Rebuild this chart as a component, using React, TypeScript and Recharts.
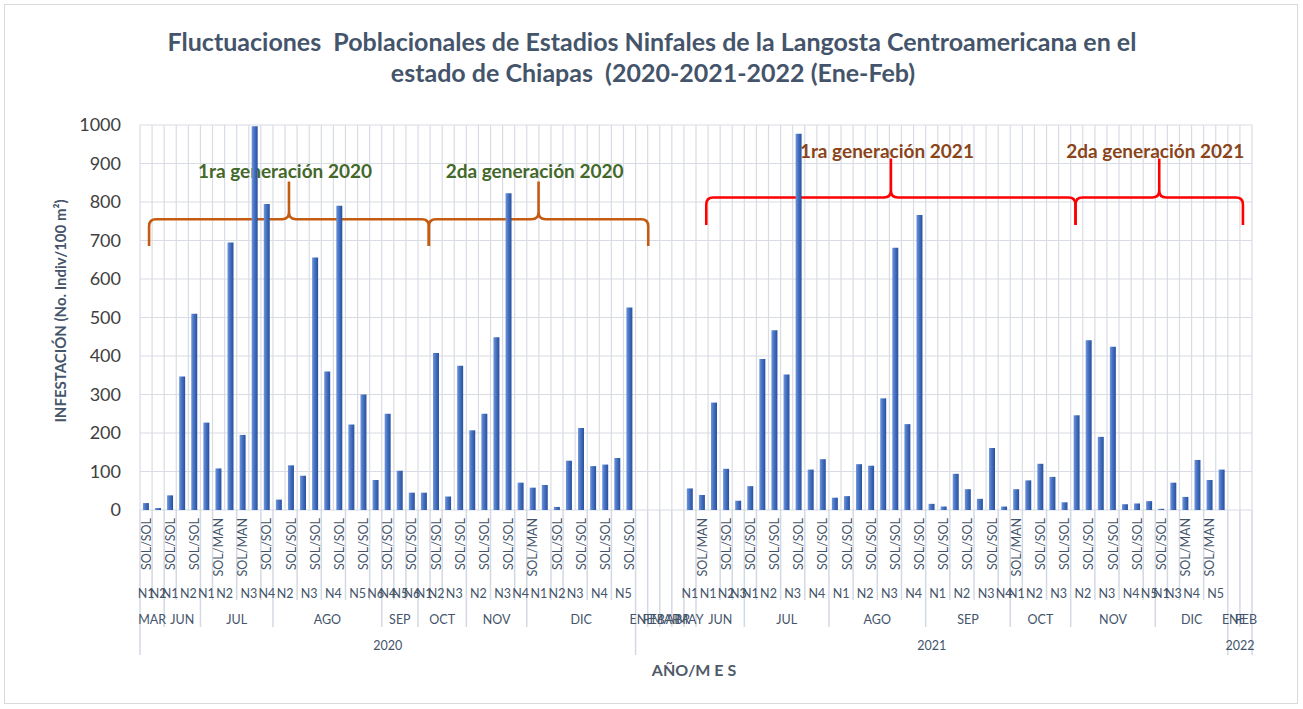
import React from "react";
import { BarChart, Bar, XAxis, YAxis, CartesianGrid, ReferenceArea } from "recharts";

// ---------- data ----------
const infestation2020: (number | null)[] = [
  18, 5, 38, 347, 510, 227, 108, 695, 195, 997, 795, 27, 116, 89, 656, 360, 790, 222, 300, 78,
  250, 102, 45, 45, 408, 35, 375, 207, 250, 449, 823, 71, 58, 65, 8, 128, 213, 114, 118, 135, 526,
];
const infestation2021: (number | null)[] = [
  null, null, null, null, 56, 39, 279, 107, 24, 62, 392, 467, 352, 977, 105, 132, 32, 36, 119, 115,
  290, 681, 223, 766, 16, 9, 94, 54, 29, 161, 9, 54, 77, 120, 86, 20, 246, 441, 190, 424, 15, 17, 23,
  3, 71, 34, 130, 78, 105,
];
const infestation2022: (number | null)[] = [null, null];

const yearGroups: [string, number][] = [["2020", 41], ["2021", 49], ["2022", 2]];
const monthGroups: [string, number][] = [
  ["MAR", 2], ["JUN", 3], ["JUL", 6], ["AGO", 9], ["SEP", 3], ["OCT", 4], ["NOV", 5], ["DIC", 9],
  ["ENE", 1], ["FEB", 1], ["MAR", 1], ["ABR", 1], ["MAY", 1], ["JUN", 4], ["JUL", 7], ["AGO", 8],
  ["SEP", 7], ["OCT", 5], ["NOV", 7], ["DIC", 6],
  ["ENE", 1], ["FEB", 1],
];
const stageGroups: [string, number][] = [
  ["N1", 1], ["N2", 1],
  ["N1", 1], ["N2", 2],
  ["N1", 1], ["N2", 2], ["N3", 2], ["N4", 1],
  ["N2", 2], ["N3", 2], ["N4", 2], ["N5", 2], ["N6", 1],
  ["N4", 1], ["N5", 1], ["N6", 1],
  ["N1", 1], ["N2", 1], ["N3", 2],
  ["N2", 2], ["N3", 2], ["N4", 1],
  ["N1", 2], ["N2", 1], ["N3", 2], ["N4", 2], ["N5", 2],
  ["", 4],
  ["N1", 1],
  ["N1", 2], ["N2", 1], ["N3", 1],
  ["N1", 1], ["N2", 2], ["N3", 2], ["N4", 2],
  ["N1", 2], ["N2", 2], ["N3", 2], ["N4", 2],
  ["N1", 2], ["N2", 2], ["N3", 2], ["N4", 1],
  ["N1", 1], ["N2", 2], ["N3", 2],
  ["N2", 2], ["N3", 2], ["N4", 2], ["N5", 1],
  ["N1", 1], ["N3", 1], ["N4", 2], ["N5", 2],
  ["", 2],
];
// label shown on every second category (0, 2, 4, ...)
const conditionLabels: string[] = [
  "SOL/SOL", "SOL/SOL", "SOL/SOL", "SOL/MAN", "SOL/MAN", "SOL/SOL", "SOL/SOL", "SOL/SOL", "SOL/SOL",
  "SOL/SOL", "SOL/SOL", "SOL/SOL", "SOL/SOL", "SOL/SOL", "SOL/SOL", "SOL/SOL", "SOL/MAN", "SOL/SOL",
  "SOL/SOL", "SOL/SOL", "SOL/SOL",
  "", "", "SOL/MAN", "SOL/SOL", "SOL/SOL", "SOL/SOL", "SOL/SOL", "SOL/SOL", "SOL/SOL", "SOL/SOL",
  "SOL/SOL", "SOL/SOL", "SOL/SOL", "SOL/SOL", "SOL/SOL", "SOL/MAN", "SOL/SOL", "SOL/SOL", "SOL/SOL",
  "SOL/SOL", "SOL/SOL", "SOL/SOL", "SOL/MAN", "SOL/MAN", "",
];
const yTicks = [0, 100, 200, 300, 400, 500, 600, 700, 800, 900, 1000];

const braces = [
  { label: "1ra generación 2020", from: 0.75, to: 23.9, low: 686, high: 853, stroke: "#C55A11", color: "#43682A", dy: -3.5 },
  { label: "2da generación 2020", from: 23.9, to: 42.05, low: 686, high: 853, stroke: "#C55A11", color: "#43682A", dy: -3.5 },
  { label: "1ra generación 2021", from: 46.85, to: 77.4, low: 740, high: 913, stroke: "#FF0000", color: "#8A4419", dy: 0 },
  { label: "2da generación 2021", from: 77.4, to: 91.25, low: 740, high: 913, stroke: "#FF0000", color: "#8A4419", dy: 0 },
];

// ---------- derived ----------
const values = [...infestation2020, ...infestation2021, ...infestation2022];
const TOTAL = values.length;
const data = values.map((v, i) => ({ key: i, pos: i + 0.5, infestacion: v }));

const toSpans = (groups: [string, number][]) => {
  let s = 0;
  return groups.map(([label, n]) => {
    const r = { label, start: s, end: s + n };
    s += n;
    return r;
  });
};
const yearSpans = toSpans(yearGroups);
const monthSpans = toSpans(monthGroups);
const stageSpans = toSpans(stageGroups);

const boundaryLevel = new Map<number, number>();
const mark = (spans: { start: number; end: number }[], lvl: number) =>
  spans.forEach((s) => {
    [s.start, s.end].forEach((b) => boundaryLevel.set(b, Math.max(boundaryLevel.get(b) || 0, lvl)));
  });
mark(stageSpans, 1);
mark(monthSpans, 2);
mark(yearSpans, 3);

const condMap = new Map<number, string>();
conditionLabels.forEach((l, k) => {
  if (l) condMap.set(2 * k + 0.5, l);
});
const centerMap = (spans: { label: string; start: number; end: number }[]) => {
  const m = new Map<number, string>();
  spans.forEach((s) => {
    if (s.label) m.set((s.start + s.end) / 2, s.label);
  });
  return m;
};
const stageMap = centerMap(stageSpans);
const monthMap = centerMap(monthSpans);
const yearMap = centerMap(yearSpans);

const condTicks = [...Array.from(boundaryLevel.keys()), ...Array.from(condMap.keys())].sort((a, b) => a - b);
const gridTicks = Array.from({ length: TOTAL + 1 }, (_, i) => i);

// ---------- styles ----------
const W = 1303;
const H = 709;
const LABEL = "#44546A";
const SEP = "#D3D9E3";
const FONT = "Lato, 'Noto Sans', sans-serif";
const sepLen = [0, 90, 117, 145];

const CondTick = (props: any) => {
  const { x, y, payload } = props;
  const v = payload.value as number;
  if (boundaryLevel.has(v)) {
    return <line x1={x} x2={x} y1={y} y2={y + sepLen[boundaryLevel.get(v) as number]} stroke={SEP} strokeWidth={1.5} />;
  }
  const label = condMap.get(v);
  if (!label) return <g />;
  return (
    <text
      transform={`translate(${x},${y + 8}) rotate(-90)`}
      textAnchor="end"
      dominantBaseline="central"
      fontSize={12.5}
      fontFamily={FONT}
      fill={LABEL}
    >
      {label}
    </text>
  );
};

const makeTick = (m: Map<number, string>, dy: number, size: number) => (props: any) => {
  const { x, y, payload } = props;
  const label = m.get(payload.value as number);
  if (!label) return <g />;
  return (
    <text x={x} y={y + dy} textAnchor="middle" fontSize={size} fontFamily={FONT} fill={LABEL}>
      {label}
    </text>
  );
};
const StageTick = makeTick(stageMap, 26, 12.5);
const MonthTick = makeTick(monthMap, 24, 12.5);
const YearTick = makeTick(yearMap, 23, 12.5);

const makeBrace = (b: (typeof braces)[number]) => (props: any) => {
  const { x, y, width, height } = props;
  const x0 = x;
  const x1 = x + width;
  const xm = x + width / 2;
  const yb = y + height;
  const yt = y;
  const yh = yb - 0.415 * height;
  const r = 7;
  const d =
    `M${x0},${yb} L${x0},${yh + r} Q${x0},${yh} ${x0 + r},${yh} L${xm - r},${yh} ` +
    `Q${xm},${yh} ${xm},${yh - r} L${xm},${yt} M${xm},${yh - r} Q${xm},${yh} ${xm + r},${yh} ` +
    `L${x1 - r},${yh} Q${x1},${yh} ${x1},${yh + r} L${x1},${yb}`;
  return (
    <g>
      <path d={d} fill="none" stroke={b.stroke} strokeWidth={2.6} strokeLinejoin="round" />
      <text
        x={xm - 4}
        y={yt + b.dy}
        textAnchor="middle"
        fontSize={19}
        fontWeight="bold"
        fontFamily={FONT}
        fill={b.color}
      >
        {b.label}
      </text>
    </g>
  );
};

const numAxis = {
  dataKey: "pos",
  type: "number" as const,
  domain: [0, TOTAL] as [number, number],
  interval: 0 as const,
  allowDataOverflow: true,
  tickLine: false,
  axisLine: false,
  tickSize: 0,
  tickMargin: 0,
};

export default function App() {
  return (
    <div style={{ position: "absolute", left: 0, top: 0, width: W, height: H, background: "#fff" }}>
      <svg width={W} height={H} style={{ position: "absolute", left: 0, top: 0 }}>
        <defs>
          <linearGradient id="barGrad" x1="0" y1="0" x2="1" y2="0">
            <stop offset="0%" stopColor="#7396DA" />
            <stop offset="45%" stopColor="#4472C4" />
            <stop offset="100%" stopColor="#2A4F99" />
          </linearGradient>
        </defs>
        <rect x={4.5} y={4.5} width={1293} height={699} fill="#fff" stroke="#D9D9D9" />
        <text x={652} y={51} textAnchor="middle" fontSize={25} fontWeight="bold" fontFamily={FONT} fill="#44546A" style={{ whiteSpace: "pre" }}>
          {"Fluctuaciones  Poblacionales de Estadios Ninfales de la Langosta Centroamericana en el"}
        </text>
        <text x={653} y={82} textAnchor="middle" fontSize={25} fontWeight="bold" fontFamily={FONT} fill="#44546A" style={{ whiteSpace: "pre" }}>
          {"estado de Chiapas  (2020-2021-2022 (Ene-Feb)"}
        </text>
        <text
          transform="translate(60,311) rotate(-90)"
          textAnchor="middle"
          dominantBaseline="central"
          fontSize={15}
          fontWeight="bold"
          fontFamily={FONT}
          fill="#44546A"
        >
          INFESTACIÓN (No. Indiv/100 m²)
        </text>
        <text x={694} y={676} textAnchor="middle" fontSize={16} fontWeight="bold" fontFamily={FONT} fill="#505A68">
          AÑO/M E S
        </text>
      </svg>
      <div style={{ position: "absolute", left: 0, top: 0 }}>
        <BarChart width={W} height={H} data={data} margin={{ top: 125, right: 51, bottom: 55, left: 80 }} barCategoryGap="24%">
          <XAxis xAxisId="a0cat" dataKey="key" type="category" hide height={0} />
          <XAxis xAxisId="a1grid" {...numAxis} ticks={gridTicks} hide height={0} />
          <XAxis xAxisId="b1cond" {...numAxis} ticks={condTicks} height={62} tick={CondTick} />
          <XAxis xAxisId="b2stage" {...numAxis} ticks={Array.from(stageMap.keys())} height={28} tick={StageTick} />
          <XAxis xAxisId="b3month" {...numAxis} ticks={Array.from(monthMap.keys())} height={27} tick={MonthTick} />
          <XAxis xAxisId="b4year" {...numAxis} ticks={Array.from(yearMap.keys())} height={27} tick={YearTick} />
          <YAxis
            domain={[0, 1000]}
            ticks={yTicks}
            interval={0}
            width={60}
            axisLine={false}
            tickLine={false}
            tickSize={0}
            tickMargin={19}
            tick={{ fill: "#404040", fontSize: 18, fontFamily: FONT }}
          />
          <CartesianGrid xAxisId="a1grid" stroke="#D9DCE4" strokeWidth={1.2} />
          <Bar xAxisId="a0cat" dataKey="infestacion" fill="url(#barGrad)" isAnimationActive={false} />
          {braces.map((b) => (
            <ReferenceArea
              key={b.label}
              xAxisId="a1grid"
              x1={b.from}
              x2={b.to}
              y1={b.low}
              y2={b.high}
              ifOverflow="visible"
              shape={makeBrace(b)}
            />
          ))}
        </BarChart>
      </div>
    </div>
  );
}
